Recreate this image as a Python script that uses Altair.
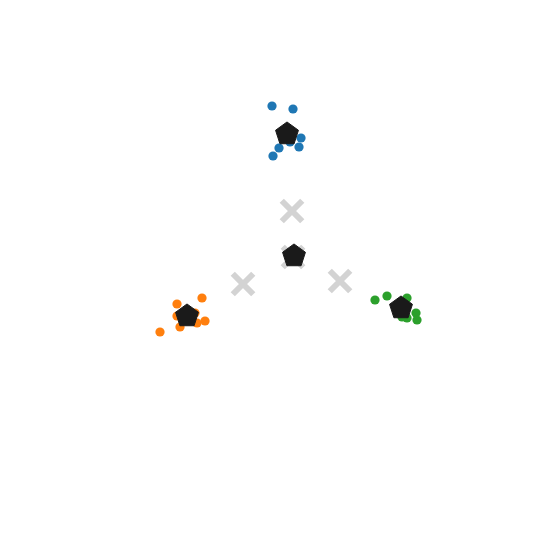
import altair as alt
import pandas as pd

# cluster points (data units)
blue_x = [-0.03, 0.39, 0.55, 0.51, 0.11, -0.01, 0.33]
blue_y = [3.35, 3.29, 2.71, 2.53, 2.51, 2.35, 2.63]
orange_x = [-1.43, -1.93, -1.93, -1.37, -1.53, -1.87, -2.27, -1.57]
orange_y = [-0.49, -0.61, -0.85, -0.95, -0.99, -1.07, -1.17, -0.79]
green_x = [2.03, 2.27, 2.67, 2.85, 2.87, 2.67, 2.57]
green_y = [-0.53, -0.45, -0.49, -0.79, -0.93, -0.89, -0.87]

# initial / reference centers (crosses)
cross_x = [0.37, -0.61, 1.33, 0.39]
cross_y = [1.25, -0.21, -0.15, 0.33]

# final centers (pentagons)
pent_x = [0.27, -1.73, 2.55, 0.41]
pent_y = [2.79, -0.85, -0.69, 0.35]

rows = []
for c, xs, ys in [("A", blue_x, blue_y), ("B", orange_x, orange_y), ("C", green_x, green_y)]:
    for x, y in zip(xs, ys):
        rows.append({"x": x, "y": y, "cluster": c})
pts = pd.DataFrame(rows)
crosses = pd.DataFrame({"x": cross_x, "y": cross_y})
pents = pd.DataFrame({"x": pent_x, "y": pent_y})

L = 5.47
xs = alt.Scale(domain=[-L, L], nice=False, zero=False)
ys = alt.Scale(domain=[-L, L], nice=False, zero=False)

X_PATH = "M-1,-1L1,1M1,-1L-1,1"
PENT = "M0,-1L0.951,-0.309L0.588,0.809L-0.588,0.809L-0.951,-0.309Z"

cross_layer = alt.Chart(crosses).mark_point(
    shape=X_PATH, filled=False, stroke="#d3d3d3", strokeWidth=6, size=420, opacity=1
).encode(x=alt.X("x:Q", scale=xs, axis=None), y=alt.Y("y:Q", scale=ys, axis=None))

pt_layer = alt.Chart(pts).mark_circle(size=85, opacity=1).encode(
    x=alt.X("x:Q", scale=xs, axis=None),
    y=alt.Y("y:Q", scale=ys, axis=None),
    color=alt.Color("cluster:N", scale=alt.Scale(domain=["A", "B", "C"],
                    range=["#1f77b4", "#ff7f0e", "#2ca02c"]), legend=None),
)

pent_layer = alt.Chart(pents).mark_point(
    shape=PENT, filled=True, fill="#1a1a1a", stroke="#1a1a1a", strokeWidth=1, size=580, opacity=1
).encode(x=alt.X("x:Q", scale=xs, axis=None), y=alt.Y("y:Q", scale=ys, axis=None))

chart = alt.layer(cross_layer, pt_layer, pent_layer).properties(
    width=547, height=547, autosize=alt.AutoSizeParams(type="none"), padding=0
).configure_view(stroke=None)

chart.save("out.html", embed_options={"renderer": "svg", "actions": False})
